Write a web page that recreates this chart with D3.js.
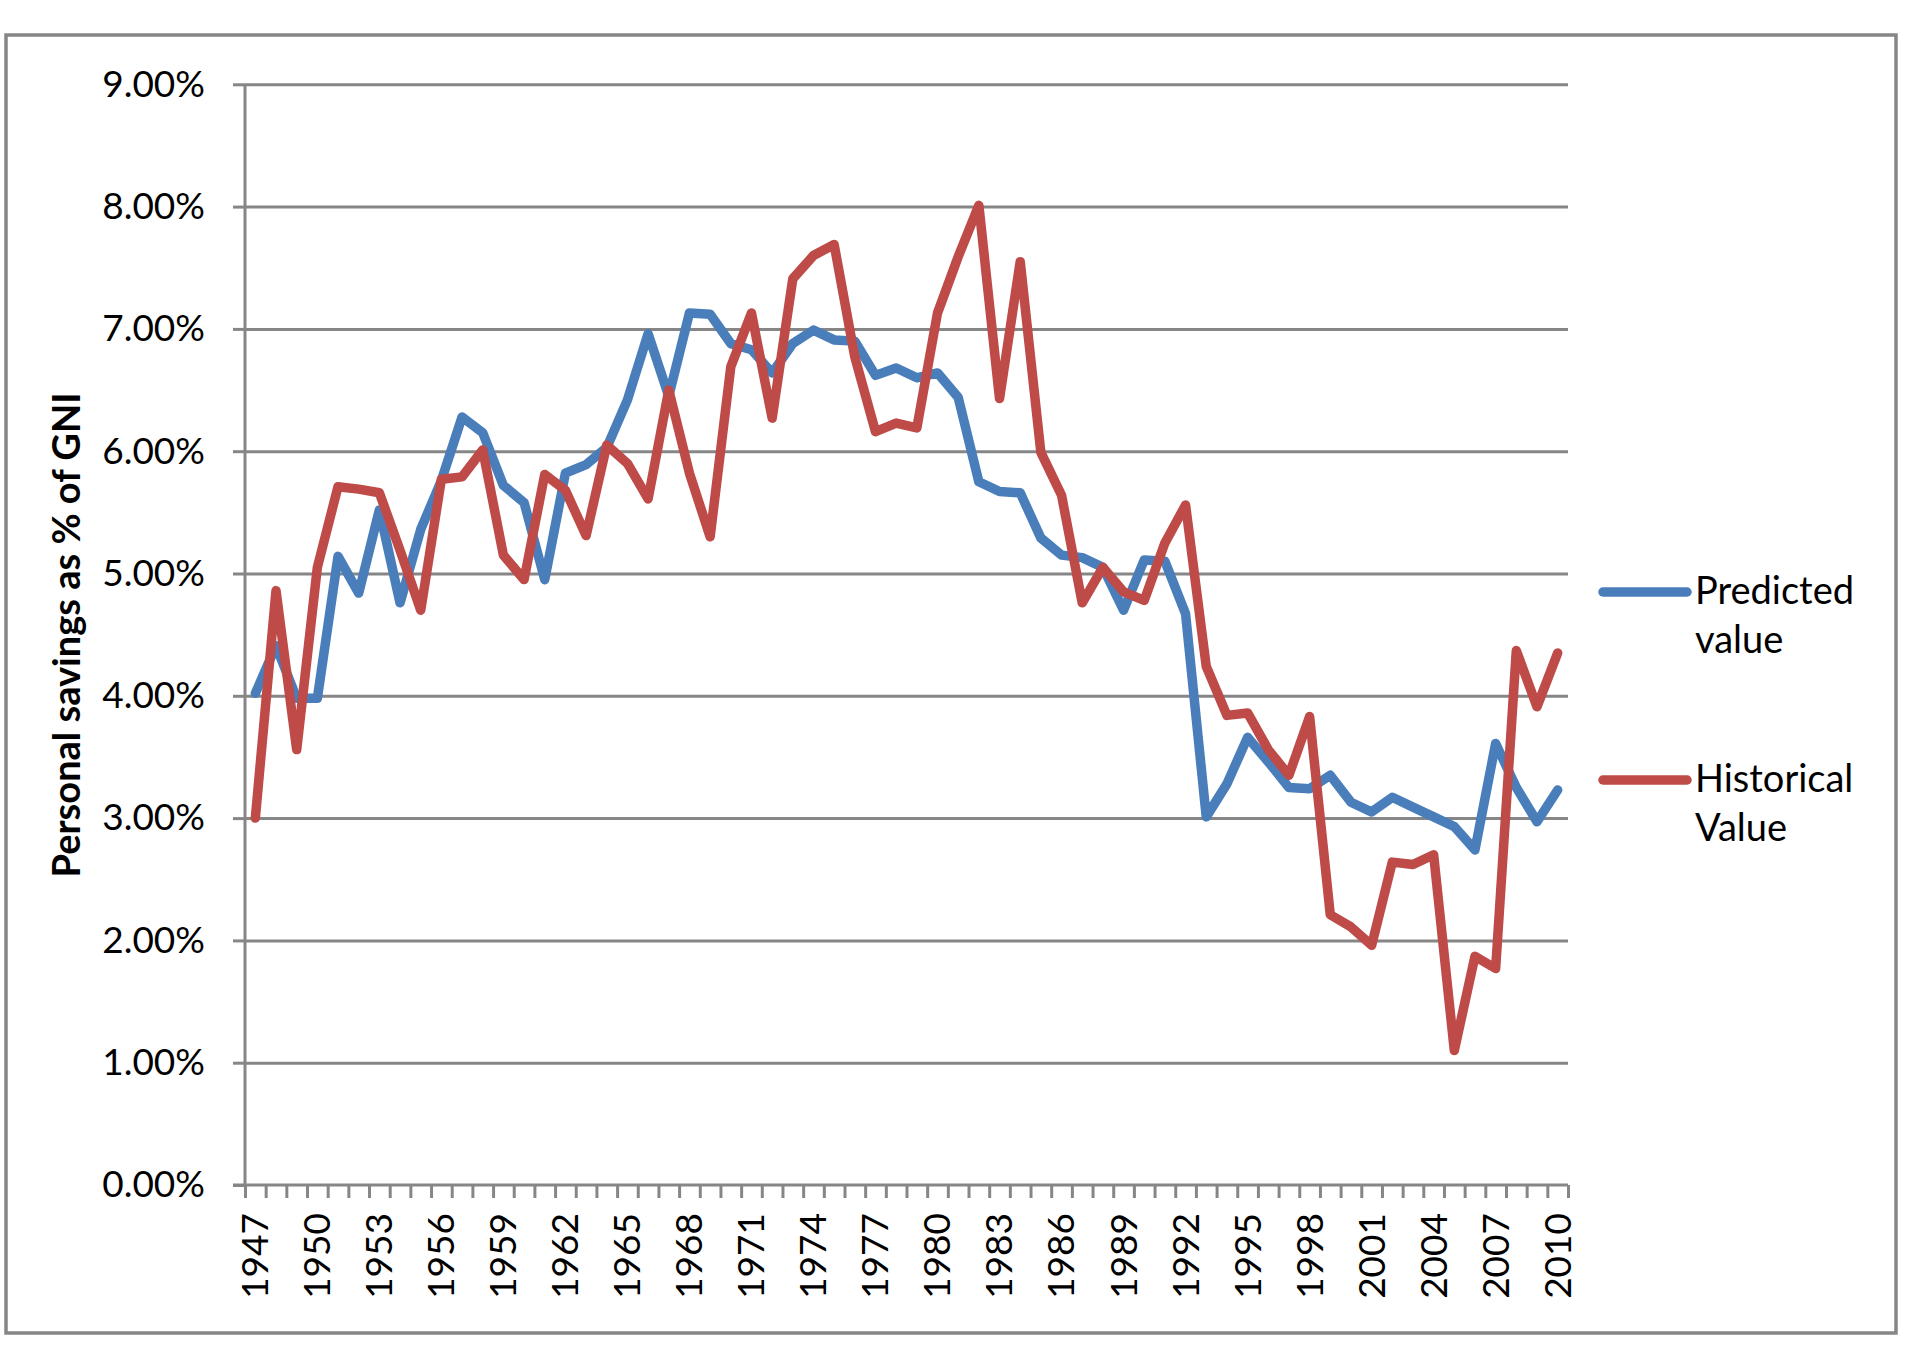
<!DOCTYPE html>
<html>
<head>
<meta charset="utf-8">
<script src="https://cdn.jsdelivr.net/npm/d3@7"></script>
<style>
    body { margin: 0; background: #fff; }
    svg { display: block; font-family: Lato, 'Open Sans', sans-serif; }
</style>
</head>
<body>
<div id="chart"></div>
<script>
// Years on the category axis
const years = d3.range(1947, 2011);

// Personal savings as % of GNI (values in percent)
const predicted = [
    4.02, 4.41, 3.98, 3.98, 5.14, 4.84, 5.52, 4.76, 5.36, 5.76,
    6.28, 6.15, 5.72, 5.58, 4.95, 5.82, 5.89, 6.03, 6.42, 6.96,
    6.45, 7.13, 7.12, 6.88, 6.83, 6.64, 6.88, 6.99, 6.91, 6.90,
    6.62, 6.68, 6.60, 6.64, 6.44, 5.75, 5.67, 5.66, 5.29, 5.15,
    5.13, 5.05, 4.70, 5.11, 5.10, 4.67, 3.01, 3.28, 3.66, 3.46,
    3.25, 3.24, 3.35, 3.13, 3.05, 3.17, 3.09, 3.01, 2.93, 2.74,
    3.61, 3.25, 2.97, 3.23
];

const historical = [
    3.00, 4.86, 3.56, 5.05, 5.71, 5.69, 5.66, 5.19, 4.70, 5.77,
    5.79, 6.01, 5.15, 4.95, 5.81, 5.68, 5.31, 6.05, 5.90, 5.61,
    6.50, 5.82, 5.30, 6.69, 7.13, 6.27, 7.41, 7.60, 7.69, 6.77,
    6.16, 6.23, 6.19, 7.13, 7.59, 8.01, 6.43, 7.55, 5.99, 5.64,
    4.76, 5.05, 4.85, 4.78, 5.25, 5.56, 4.24, 3.84, 3.86, 3.56,
    3.35, 3.83, 2.21, 2.11, 1.96, 2.64, 2.62, 2.70, 1.10, 1.87,
    1.77, 4.37, 3.91, 4.35
];

const yTicks = [0, 1, 2, 3, 4, 5, 6, 7, 8, 9];
const xLabelYears = years.filter((y) => (y - 1947) % 3 === 0);

const seriesNames = ['Predicted value', 'Historical Value'];
const seriesColors = ['#4a7ebb', '#be4b48'];

const width = 1916;
const height = 1348;
const plot = { left: 245, right: 1568, top: 84.3, bottom: 1185 };
const gridColor = '#868686';
const labelFont = "Lato, 'Open Sans', sans-serif";

const svg = d3.select('#chart')
    .append('svg')
    .attr('width', width)
    .attr('height', height);

// chart frame
svg.append('rect')
    .attr('x', 6)
    .attr('y', 35)
    .attr('width', 1890)
    .attr('height', 1298)
    .attr('fill', '#fff')
    .attr('stroke', gridColor)
    .attr('stroke-width', 3.5);

const x = d3.scaleBand()
    .domain(years)
    .range([plot.left, plot.right])
    .padding(0);

const y = d3.scaleLinear()
    .domain([0, 9])
    .range([plot.bottom, plot.top]);

// gridlines
svg.append('g')
    .attr('transform', `translate(${plot.left},0)`)
    .call(d3.axisLeft(y).tickValues(yTicks.slice(1)).tickSize(-(plot.right - plot.left)).tickFormat(''))
    .call((g) => g.select('.domain').remove())
    .selectAll('line')
    .attr('stroke', gridColor)
    .attr('stroke-width', 3);

// Y axis
const yAxis = svg.append('g')
    .attr('transform', `translate(${plot.left},0)`)
    .call(d3.axisLeft(y).tickValues(yTicks).tickSize(12).tickPadding(28).tickFormat((d) => d.toFixed(2) + '%'))
    .attr('font-family', labelFont)
    .attr('font-size', 37);

yAxis.select('.domain')
    .attr('stroke', gridColor)
    .attr('stroke-width', 3)
    .attr('d', `M0,${plot.bottom}V${plot.top}`);
yAxis.selectAll('line').attr('stroke', gridColor).attr('stroke-width', 3);
yAxis.selectAll('text').attr('fill', '#000');

// X axis: tick marks on category boundaries
const boundary = d3.scaleLinear()
    .domain([0, years.length])
    .range([plot.left, plot.right]);

const xTicks = svg.append('g')
    .attr('transform', `translate(0,${plot.bottom})`)
    .call(d3.axisBottom(boundary).tickValues(d3.range(0, years.length + 1)).tickSize(13).tickFormat(''));

xTicks.select('.domain')
    .attr('stroke', gridColor)
    .attr('stroke-width', 3)
    .attr('d', `M${plot.left - 12},0H${plot.right}`);
xTicks.selectAll('line').attr('stroke', gridColor).attr('stroke-width', 3);

// X labels (every third year, rotated)
const xAxis = svg.append('g')
    .attr('transform', `translate(0,${plot.bottom})`)
    .call(d3.axisBottom(x).tickValues(xLabelYears).tickSize(0))
    .attr('font-family', labelFont)
    .attr('font-size', 37);

xAxis.select('.domain').remove();
xAxis.selectAll('text')
    .attr('fill', '#000')
    .style('text-anchor', 'end')
    .attr('transform', 'rotate(-90)')
    .attr('x', -28)
    .attr('y', 0)
    .attr('dy', '0.35em');

// series lines
const line = d3.line()
    .x((d, i) => x(years[i]) + x.bandwidth() / 2)
    .y((d) => y(d));

[predicted, historical].forEach((values, k) => {
    svg.append('path')
        .datum(values)
        .attr('fill', 'none')
        .attr('stroke', seriesColors[k])
        .attr('stroke-width', 9.5)
        .attr('stroke-linejoin', 'round')
        .attr('stroke-linecap', 'round')
        .attr('d', line);
});

// Y axis title
svg.append('text')
    .attr('transform', 'translate(80,635) rotate(-90)')
    .attr('text-anchor', 'middle')
    .style('font-size', '38px')
    .style('font-weight', 'bold')
    .text('Personal savings as % of GNI');

// legend
const legendY = [592, 780];
const legend = svg.append('g');

seriesNames.forEach((name, k) => {
    legend.append('line')
        .attr('x1', 1603)
        .attr('x2', 1687)
        .attr('y1', legendY[k])
        .attr('y2', legendY[k])
        .attr('stroke', seriesColors[k])
        .attr('stroke-width', 9.5)
        .attr('stroke-linecap', 'round');

    const words = name.split(' ');
    const label = legend.append('text')
        .attr('x', 1695)
        .attr('y', legendY[k] + 12)
        .style('font-size', '38px');
    words.forEach((w, j) => {
        label.append('tspan')
            .attr('x', 1695)
            .attr('dy', j === 0 ? 0 : 49)
            .text(w);
    });
});
</script>
</body>
</html>
